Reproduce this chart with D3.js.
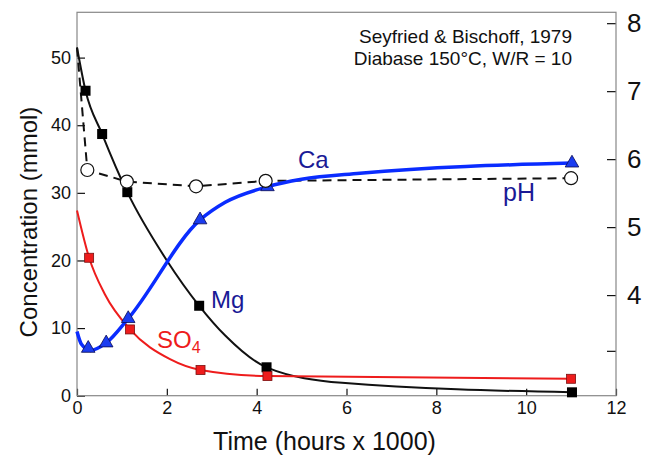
<!DOCTYPE html>
<html><head><meta charset="utf-8">
<script src="https://cdn.jsdelivr.net/npm/d3@7"></script>
<style>body{margin:0;background:#fff}svg{display:block;font-family:"Liberation Sans",Arial,sans-serif}</style>
</head><body><svg id="c" width="648" height="457"></svg>
<script>
// ---- data (time in hours x 1000) ----
const xTicks = [0,2,4,6,8,10,12];
const concTicks = [0,10,20,30,40,50];
const pHTicks = [4,5,6,7,8];
const pHMinorTicks = [3.18];

const mgPoints = [[0.19,45.1],[0.56,38.7],[1.12,30.1],[2.72,13.3],[4.22,4.2],[11.02,0.5]];
const mgCurve  = [[0,51.5],[0.19,45.1],[0.56,38.7],[1.12,30.1],[2.0,20.0],[2.72,13.3],[3.3,8.9],[4.22,4.2],[5.9,1.9],[11.02,0.5]];

const so4Points = [[0.27,20.4],[1.18,9.8],[2.75,3.8],[4.24,2.9],[11.0,2.5]];
const so4Curve  = [[0,27.4],[0.27,20.4],[0.62,15.0],[1.18,9.8],[2.07,5.4],[2.75,3.8],[4.24,2.9],[11.0,2.5]];

const caPoints = [[0.25,7.0],[0.65,7.8],[1.14,11.4],[2.74,26.0],[4.24,30.9],[11.02,34.4]];
const caCurve  = [[0,9.5],[0.1,7.6],[0.3,6.7],[0.65,7.8],[1.14,11.4],[2.74,26.0],[3.3,28.6],[4.24,30.9],[5.0,32.0],[6.3,32.9],[11.02,34.4]];

const pHPoints = [[0.23,5.84],[1.11,5.67],[2.65,5.60],[4.2,5.68],[11.0,5.72]];
const pHCurve  = [[0,7.64],[0.23,5.84],[1.11,5.67],[2.65,5.60],[4.2,5.68],[11.0,5.72]];

const xTitle = "Time (hours x 1000)";
const yTitle = "Concentration (mmol)";
const note = ["Seyfried & Bischoff, 1979", "Diabase 150°C, W/R = 10"];

// ---- layout ----
const L = 77, R = 616, T = 12.3, B = 395.7;
const svg = d3.select("#c");
const x = d3.scaleLinear().domain([0,12]).range([L,R]);
const y = d3.scaleLinear().domain([0,56.7]).range([B,T]);
const yp = d3.scaleLinear().domain([2.52,8.16]).range([B,T]);

const navy = "#1a1a96", red = "#ee1c1c", blue = "#0a2cff";

// axes
const gx = svg.append("g").attr("transform",`translate(0,${B})`)
  .call(d3.axisBottom(x).tickValues(xTicks).tickSize(-7).tickPadding(6).tickFormat(d3.format("d")));
const gy = svg.append("g").attr("transform",`translate(${L},0)`)
  .call(d3.axisLeft(y).tickValues(concTicks).tickSize(-8).tickPadding(6).tickFormat(d3.format("d")));
const gr = svg.append("g").attr("transform",`translate(${R},0)`)
  .call(d3.axisRight(yp).tickValues(pHTicks).tickSize(-9).tickPadding(11).tickFormat(d3.format("d")));
const gr2 = svg.append("g").attr("transform",`translate(${R},0)`)
  .call(d3.axisRight(yp).tickValues(pHMinorTicks).tickSize(-9).tickFormat(() => ""));
[gx,gy,gr,gr2].forEach(g => {
  g.select(".domain").remove();
  g.selectAll("line").attr("stroke","#111").attr("stroke-width",1.2);
  g.selectAll("text").attr("fill","#111").attr("font-family","Liberation Sans, Arial, sans-serif");
});
gx.selectAll("text").attr("font-size",18);
gy.selectAll("text").attr("font-size",18);
gr.selectAll("text").attr("font-size",26);

// frame
svg.append("rect").attr("x",L).attr("y",T).attr("width",R-L).attr("height",B-T)
  .attr("fill","none").attr("stroke","#888").attr("stroke-width",1.2);

// titles
svg.append("text").attr("x",(L+R)/2 - 22).attr("y",450).attr("text-anchor","middle")
  .attr("font-size",25).attr("fill","#111").text(xTitle);
svg.append("text").attr("transform",`translate(37,${222}) rotate(-90)`).attr("text-anchor","middle")
  .attr("font-size",24).attr("fill","#111").text(yTitle);
note.forEach((t,i) => svg.append("text").attr("x",572).attr("y",43.3 + i*21.8)
  .attr("text-anchor","end").attr("font-size",19).attr("fill","#111").text(t));

// lines
const lineC = yS => d3.line().x(d => x(d[0])).y(d => yS(d[1])).curve(d3.curveMonotoneX);
svg.append("path").datum(pHCurve).attr("d", d3.line().x(d=>x(d[0])).y(d=>yp(d[1])))
  .attr("fill","none").attr("stroke","#111").attr("stroke-width",2).attr("stroke-dasharray","9,6");
svg.append("path").datum(mgCurve).attr("d", lineC(y)).attr("fill","none").attr("stroke","#111").attr("stroke-width",2);
svg.append("path").datum(so4Curve).attr("d", lineC(y)).attr("fill","none").attr("stroke",red).attr("stroke-width",2);
svg.append("path").datum(caCurve).attr("d", lineC(y)).attr("fill","none").attr("stroke",blue).attr("stroke-width",3.5);

// markers
svg.append("g").selectAll("rect").data(mgPoints).join("rect")
  .attr("x",d=>x(d[0])-5).attr("y",d=>y(d[1])-5).attr("width",10).attr("height",10).attr("fill","#000");
svg.append("g").selectAll("rect").data(so4Points).join("rect")
  .attr("x",d=>x(d[0])-4.5).attr("y",d=>y(d[1])-4.5).attr("width",9).attr("height",9)
  .attr("fill",red).attr("stroke","#7a1010").attr("stroke-width",0.8);
const tri = d3.symbol().type(d3.symbolTriangle).size(80);
svg.append("g").selectAll("path").data(caPoints).join("path")
  .attr("d",tri).attr("transform",d=>`translate(${x(d[0])},${y(d[1])})`)
  .attr("fill","#1a3cf0").attr("stroke","#0a0a50").attr("stroke-width",0.8);
svg.append("g").selectAll("circle").data(pHPoints).join("circle")
  .attr("cx",d=>x(d[0])).attr("cy",d=>yp(d[1])).attr("r",6.5)
  .attr("fill","#fff").attr("stroke","#111").attr("stroke-width",1.2);

// series labels
svg.append("text").attr("x",298).attr("y",168).attr("font-size",24).attr("fill",navy).text("Ca");
svg.append("text").attr("x",503).attr("y",201).attr("font-size",25).attr("fill",navy).text("pH");
svg.append("text").attr("x",211).attr("y",308).attr("font-size",24).attr("fill",navy).text("Mg");
const so = svg.append("text").attr("x",157).attr("y",348).attr("font-size",24).attr("fill",red);
so.append("tspan").text("SO");
so.append("tspan").attr("font-size",16).attr("dy",5).text("4");
</script></body></html>
